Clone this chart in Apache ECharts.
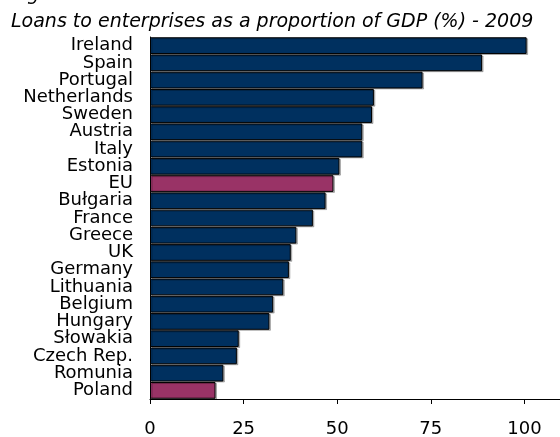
<!DOCTYPE html>
<html>
<head>
<meta charset="utf-8">
<script src="https://cdn.jsdelivr.net/npm/echarts@6/dist/echarts.min.js"></script>
<style>html,body{margin:0;padding:0;background:#fff;}#c{width:560px;height:437px;}</style>
</head>
<body>
<div id="c"></div>
<script>
var countries = ["Ireland","Spain","Portugal","Netherlands","Sweden","Austria","Italy","Estonia","EU","Bułgaria","France","Greece","UK","Germany","Lithuania","Belgium","Hungary","Słowakia","Czech Rep.","Romunia","Poland"];
var values = [100.6,88.7,72.8,59.8,59.3,56.7,56.7,50.6,49.0,46.9,43.5,39.1,37.6,37.1,35.6,32.9,31.9,23.7,23.2,19.6,17.5];
var highlighted = ["EU","Poland"];
var xTicks = [0,25,50,75,100];

var navy = '#00305f', plum = '#993366';
var chart = echarts.init(document.getElementById('c'), null, {renderer:'canvas'});
chart.setOption({
  backgroundColor:'#ffffff',
  animation:false,
  title:[
    {text:'Figure 31.', left:6, top:-19, textStyle:{fontFamily:'DejaVu Sans', fontStyle:'italic', fontWeight:'normal', fontSize:19, color:'#000'}},
    {text:'Loans to enterprises as a proportion of GDP (%) - 2009', left:6, top:8, textStyle:{fontFamily:'DejaVu Sans', fontStyle:'italic', fontWeight:'normal', fontSize:19, color:'#000'}}
  ],
  grid:{left:150, top:37, bottom:38, right:-58, containLabel:false, outerBoundsMode:'none'},
  xAxis:{
    type:'value', min:0, max:125, interval:25,
    axisLine:{show:true, lineStyle:{color:'#000', width:1}},
    axisTick:{show:true, length:5, lineStyle:{color:'#000'}},
    splitLine:{show:false},
    axisLabel:{margin:21, fontFamily:'DejaVu Sans', fontSize:18, color:'#000',
      formatter:function(v){return xTicks.indexOf(v)>=0 ? String(v) : '';}}
  },
  yAxis:{
    type:'category', data:countries, inverse:true,
    axisLine:{show:true, lineStyle:{color:'#000', width:1}},
    axisTick:{show:false},
    axisLabel:{interval:0, margin:17, fontFamily:'DejaVu Sans', fontSize:18, color:'#000', lineHeight:17}
  },
  series:[{
    type:'bar',
    barCategoryGap:'3%',
    data:values.map(function(v,i){
      return {value:v, itemStyle:{color: highlighted.indexOf(countries[i])>=0 ? plum : navy}};
    }),
    itemStyle:{borderColor:'#000', borderWidth:1, shadowColor:'rgba(0,0,0,0.25)', shadowOffsetX:1.5, shadowOffsetY:1}
  }]
});
</script>
</body>
</html>
